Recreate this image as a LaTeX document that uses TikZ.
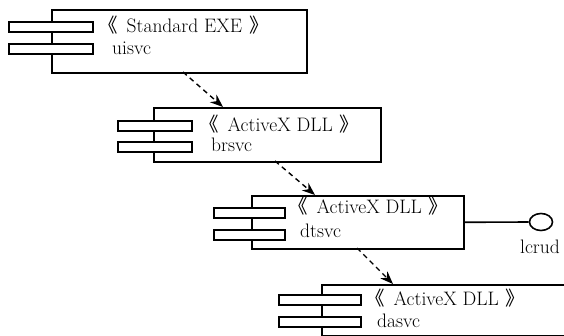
\documentclass[tikz,border=0pt]{standalone}
\usepackage{fontspec}
\newfontfamily\cjk{Noto Sans CJK SC}
\usetikzlibrary{arrows.meta,shapes.geometric}
\newcommand{\myopq}{{\cjk 《}\hspace{9pt}}
\newcommand{\myclq}{\hspace{7pt}{\cjk 》}}
\begin{document}
\begin{tikzpicture}[x=1pt,y=-1pt,
  comp/.style={draw,line width=1.6pt,anchor=north west,inner sep=0pt},
  tab/.style={draw,line width=1.6pt,fill=white,anchor=north west,inner sep=0pt,minimum height=10pt},
  lbl/.style={anchor=base west,inner sep=0pt,font=\fontsize{19.5}{21}\selectfont},
  dep/.style={dashed,dash pattern=on 5pt off 4pt,line width=1.4pt,-{Stealth[length=13pt,width=10pt]}},
]
\useasboundingbox (0,0) rectangle (564,336);
\begin{scope}
\clip (0,0) rectangle (564,336);
% box 1
\node[comp,minimum width=255pt,minimum height=63pt] (b1) at (51,9) {};
\node[tab,minimum width=84pt] (t1a) at (8,21) {};
\node[tab,minimum width=84pt] (t1b) at (8,43) {};
\node[lbl] (l1a) at (98,33) {\myopq Standard EXE\myclq};
\node[lbl] (l1b) at (112,55) {uisvc};
% box 2
\node[comp,minimum width=227pt,minimum height=54pt] (b2) at (153,107) {};
\node[tab,minimum width=74pt] (t2a) at (117,120) {};
\node[tab,minimum width=74pt] (t2b) at (117,141) {};
\node[lbl] (l2a) at (199,132) {\myopq ActiveX DLL\myclq};
\node[lbl] (l2b) at (211,152) {brsvc};
% box 3
\node[comp,minimum width=212pt,minimum height=53pt] (b3) at (251,195) {};
\node[tab,minimum width=71pt] (t3a) at (213,207) {};
\node[tab,minimum width=71pt] (t3b) at (213,229) {};
\node[lbl] (l3a) at (288,214) {\myopq ActiveX DLL\myclq};
\node[lbl] (l3b) at (300,238) {dtsvc};
% box 4
\node[comp,minimum width=300pt,minimum height=51pt] (b4) at (321,284) {};
\node[tab,minimum width=82pt] (t4a) at (278,294) {};
\node[tab,minimum width=82pt] (t4b) at (278,316) {};
\node[lbl] (l4a) at (365,305) {\myopq ActiveX DLL\myclq};
\node[lbl] (l4b) at (377,327) {dasvc};
% interface
\node[ellipse,draw,line width=1.6pt,minimum width=23pt,minimum height=17pt,inner sep=0pt] (if) at (541,222) {};
\node[anchor=base,inner sep=0pt,font=\fontsize{19.5}{21}\selectfont] (ifl) at (540,254) {lcrud};
\draw[line width=1.6pt] (b3.east) -- (if.west);
% dependencies
\coordinate (d1s) at (183,72);
\coordinate (d1e) at (223,107);
\coordinate (d2s) at (275,161);
\coordinate (d2e) at (315,195);
\coordinate (d3s) at (357,248);
\coordinate (d3e) at (393,284);
\draw[dep] (d1s) -- (d1e);
\draw[dep] (d2s) -- (d2e);
\draw[dep] (d3s) -- (d3e);
\end{scope}
\end{tikzpicture}
\end{document}
